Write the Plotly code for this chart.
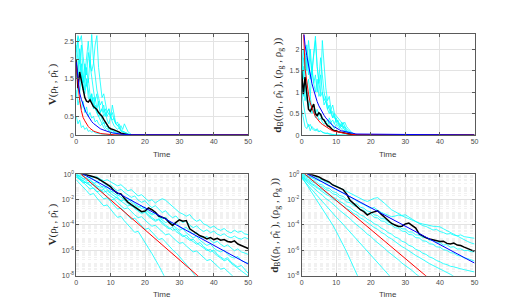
import plotly.graph_objects as go

# ---------------- data: top row (linear), time grid 0..16 step 0.5 ----------------
TOP_T = [0, 0.5, 1, 1.5, 2, 2.5, 3, 3.5, 4, 4.5, 5, 5.5, 6, 6.5, 7, 7.5, 8, 8.5,
         9, 9.5, 10, 10.5, 11, 11.5, 12, 12.5, 13, 13.5, 14, 14.5, 15, 15.5, 16, 50]

tl_cyan = [
    [2.20, 2.60, 1.90, 2.40, 1.60, 1.20, 1.50, 1.00, 0.90, 1.10, 0.70, 0.80, 0.60, 0.50, 0.55, 0.40, 0.30,
     0.35, 0.25, 0.20, 0.15, 0.12, 0.10, 0.08, 0.06, 0.05, 0.03, 0.02, 0.015, 0.01, 0.005, 0.003, 0.0],
    [1.50, 1.80, 2.30, 1.70, 1.40, 1.90, 1.60, 2.20, 1.80, 2.70, 2.00, 1.50, 1.20, 1.00, 0.80, 0.90, 0.60,
     0.70, 0.50, 0.60, 0.45, 0.80, 0.50, 0.30, 0.25, 0.30, 0.15, 0.10, 0.08, 0.05, 0.03, 0.01, 0.0],
    [1.00, 1.30, 1.10, 1.60, 1.20, 1.50, 1.80, 1.40, 2.00, 1.70, 1.90, 2.40, 2.65, 1.80, 1.40, 1.00, 1.10,
     0.80, 0.60, 0.70, 0.50, 0.40, 0.45, 0.30, 0.25, 0.20, 0.12, 0.10, 0.06, 0.04, 0.02, 0.01, 0.0],
    [2.00, 2.65, 2.50, 2.65, 2.10, 1.70, 1.30, 1.50, 1.10, 0.90, 1.00, 0.70, 0.60, 0.50, 0.40, 0.30, 0.35,
     0.20, 0.25, 0.15, 0.10, 0.12, 0.08, 0.05, 0.03, 0.02, 0.01, 0.01, 0.005, 0.0, 0.0, 0.0, 0.0],
    [0.50, 0.30, 0.40, 0.20, 0.25, 0.15, 0.20, 0.10, 0.12, 0.08, 0.10, 0.06, 0.05, 0.04, 0.05, 0.03, 0.02,
     0.02, 0.01, 0.01, 0.005, 0.0, 0.0, 0.0, 0.0, 0.0, 0.0, 0.0, 0.0, 0.0, 0.0, 0.0, 0.0],
    [1.20, 0.80, 1.00, 0.70, 0.90, 0.60, 0.75, 0.50, 0.60, 0.45, 0.50, 0.35, 0.40, 0.30, 0.25, 0.30, 0.20,
     0.15, 0.18, 0.10, 0.08, 0.06, 0.05, 0.03, 0.02, 0.01, 0.0, 0.0, 0.0, 0.0, 0.0, 0.0, 0.0],
    [1.80, 1.50, 2.00, 1.60, 1.30, 1.10, 1.40, 1.20, 0.90, 1.10, 0.80, 1.00, 0.70, 0.90, 0.60, 0.70, 0.80,
     0.50, 0.60, 0.70, 0.50, 0.60, 0.40, 0.30, 0.35, 0.20, 0.25, 0.15, 0.30, 0.20, 0.10, 0.05, 0.02],
    [2.40, 2.00, 1.60, 1.90, 1.40, 1.60, 2.10, 2.50, 1.90, 1.50, 1.20, 0.90, 1.10, 0.80, 0.60, 0.70, 0.50,
     0.60, 0.40, 0.30, 0.50, 0.35, 0.25, 0.20, 0.15, 0.20, 0.10, 0.08, 0.05, 0.03, 0.02, 0.01, 0.0],
]
tl_black = [2.00, 1.25, 1.68, 1.45, 1.20, 1.00, 0.90, 0.88, 0.94, 0.85, 0.76, 0.72, 0.68, 0.60, 0.55, 0.50,
            0.42, 0.35, 0.25, 0.20, 0.17, 0.16, 0.14, 0.12, 0.11, 0.08, 0.05, 0.04, 0.02, 0.015, 0.01, 0.005,
            0.003, 0.0]
tl_red = [1.85, 1.30, 0.92, 0.65, 0.47, 0.38, 0.30, 0.23, 0.18, 0.14, 0.11, 0.09, 0.07, 0.055, 0.045, 0.037,
          0.03, 0.025, 0.02, 0.016, 0.012, 0.01, 0.008, 0.006, 0.005, 0.004, 0.003, 0.002, 0.002, 0.001,
          0.001, 0.001, 0.0, 0.0]
tl_blue = [1.95, 1.45, 1.12, 0.95, 0.80, 0.68, 0.58, 0.50, 0.42, 0.36, 0.31, 0.27, 0.23, 0.20, 0.17, 0.15,
           0.13, 0.11, 0.09, 0.08, 0.07, 0.06, 0.05, 0.042, 0.035, 0.03, 0.025, 0.021, 0.017, 0.014, 0.012,
           0.01, 0.008, 0.0]

tr_cyan = [
    [1.70, 1.30, 1.90, 1.50, 2.20, 1.70, 1.40, 1.90, 2.30, 1.60, 1.20, 1.40, 1.00, 0.80, 0.90, 0.70, 0.60,
     0.50, 0.55, 0.40, 0.35, 0.30, 0.25, 0.20, 0.22, 0.15, 0.10, 0.08, 0.05, 0.03, 0.02, 0.01, 0.0],
    [1.00, 0.70, 0.50, 0.30, 0.20, 0.25, 0.15, 0.12, 0.10, 0.15, 0.08, 0.10, 0.06, 0.05, 0.04, 0.03, 0.02,
     0.02, 0.01, 0.01, 0.005, 0.0, 0.0, 0.0, 0.0, 0.0, 0.0, 0.0, 0.0, 0.0, 0.0, 0.0, 0.0],
    [0.60, 0.40, 0.20, 0.15, 0.25, 0.10, 0.20, 0.15, 0.12, 0.10, 0.08, 0.10, 0.07, 0.05, 0.04, 0.05, 0.03,
     0.02, 0.01, 0.0, 0.0, 0.0, 0.0, 0.0, 0.0, 0.0, 0.0, 0.0, 0.0, 0.0, 0.0, 0.0, 0.0],
    [1.40, 1.80, 1.50, 2.10, 1.70, 1.30, 1.60, 1.20, 1.00, 1.30, 0.90, 1.00, 2.20, 1.50, 1.10, 0.80, 0.90,
     0.60, 0.70, 0.50, 0.45, 0.40, 0.35, 0.30, 0.25, 0.30, 0.20, 0.15, 0.10, 0.06, 0.04, 0.02, 0.0],
    [1.20, 0.90, 1.10, 0.80, 0.70, 0.90, 0.60, 0.70, 0.50, 0.60, 0.45, 0.50, 0.40, 0.35, 0.30, 0.35, 0.25,
     0.30, 0.20, 0.15, 0.25, 0.20, 0.15, 0.30, 0.20, 0.10, 0.08, 0.05, 0.03, 0.02, 0.01, 0.0, 0.0],
    [1.60, 2.00, 1.40, 1.10, 1.30, 0.90, 1.50, 1.80, 2.20, 1.60, 1.20, 0.90, 1.00, 0.70, 0.80, 0.60, 0.50,
     0.60, 0.40, 0.45, 0.30, 0.35, 0.25, 0.20, 0.30, 0.20, 0.15, 0.10, 0.08, 0.05, 0.02, 0.01, 0.0],
    [0.90, 1.20, 0.80, 1.00, 0.60, 0.80, 0.50, 0.60, 0.40, 0.50, 0.35, 0.40, 0.30, 0.25, 0.30, 0.20, 0.40,
     0.30, 0.35, 0.25, 0.40, 0.30, 0.20, 0.25, 0.15, 0.20, 0.10, 0.05, 0.03, 0.02, 0.01, 0.0, 0.0],
    [1.30, 1.60, 1.10, 1.80, 1.40, 2.00, 1.50, 1.20, 1.40, 1.00, 1.30, 1.80, 1.40, 1.00, 0.80, 0.60, 0.70,
     0.50, 0.40, 0.50, 0.30, 0.25, 0.20, 0.15, 0.10, 0.12, 0.08, 0.05, 0.03, 0.02, 0.01, 0.0, 0.0],
]
tr_black = [1.50, 0.95, 1.35, 1.00, 0.60, 0.55, 0.65, 0.72, 0.50, 0.45, 0.52, 0.48, 0.38, 0.35, 0.28, 0.22,
            0.20, 0.15, 0.12, 0.10, 0.10, 0.08, 0.07, 0.06, 0.06, 0.05, 0.04, 0.03, 0.02, 0.015, 0.01, 0.005,
            0.003, 0.0]
tr_red = [3.30, 2.60, 1.55, 1.20, 0.95, 0.75, 0.62, 0.52, 0.43, 0.37, 0.32, 0.28, 0.25, 0.22, 0.19, 0.16,
          0.14, 0.12, 0.10, 0.09, 0.08, 0.07, 0.06, 0.05, 0.04, 0.035, 0.03, 0.025, 0.02, 0.015, 0.012, 0.01,
          0.008, 0.0]
tr_blue = [2.90, 2.45, 2.10, 1.85, 1.60, 1.40, 1.20, 1.05, 0.90, 0.78, 0.68, 0.60, 0.52, 0.46, 0.40, 0.35,
           0.30, 0.26, 0.22, 0.19, 0.16, 0.14, 0.12, 0.10, 0.09, 0.075, 0.065, 0.055, 0.05, 0.04, 0.035,
           0.03, 0.025, 0.0]

# ---------------- data: bottom row (log10 of values), time 0..50 step 1 ----------------
bl_cyan_log = [
    [0.10, 0.02, -0.08, -0.03, -0.18, -0.26, -0.20, -0.38, -0.52, -0.44, -0.61, -0.79, -0.92, -0.83, -1.08,
     -1.31, -1.22, -1.49, -1.71, -1.62, -1.88, -2.12, -2.01, -2.27, -2.08, -1.93, -2.06, -2.31, -2.55, -2.83,
     -3.02, -3.14, -3.31, -3.18, -3.52, -3.71, -3.58, -3.91, -4.03, -4.22, -4.09, -4.31, -4.42, -4.28, -4.51,
     -4.63, -4.41, -4.58, -4.49, -4.71, -4.76],
    [0.00, -0.12, -0.16, -0.31, -0.24, -0.42, -0.57, -0.49, -0.72, -0.91, -0.84, -1.12, -1.31, -1.19, -1.43,
     -1.62, -1.83, -1.71, -2.04, -2.22, -2.09, -2.41, -2.63, -2.48, -2.79, -3.02, -2.88, -3.21, -3.43, -3.29,
     -3.62, -3.81, -3.68, -4.02, -4.21, -4.07, -4.33, -4.52, -4.38, -4.61, -4.49, -4.72, -4.83, -4.69, -4.91,
     -5.02, -4.88, -5.04, -5.12, -4.98, -5.10],
    [-0.05, -0.22, -0.36, -0.28, -0.51, -0.72, -0.63, -0.91, -1.12, -0.98, -1.31, -1.52, -1.71, -1.58, -1.92,
     -2.11, -1.98, -2.32, -2.53, -2.71, -2.58, -2.92, -3.12, -2.97, -3.31, -3.52, -3.38, -3.72, -3.91, -3.79,
     -4.12, -4.31, -4.18, -4.52, -4.71, -4.58, -4.92, -5.03, -4.89, -5.21, -5.42, -5.28, -5.52, -5.71, -5.58,
     -5.82, -6.03, -5.88, -6.12, -6.21, -6.32],
    [0.00, -0.17, -0.31, -0.52, -0.43, -0.71, -0.92, -1.03, -0.94, -1.22, -1.41, -1.29, -1.62, -1.81, -2.02,
     -1.88, -2.21, -2.42, -2.61, -2.49, -2.82, -3.01, -3.22, -3.08, -3.41, -3.62, -3.81, -3.68, -4.02, -4.21,
     -4.42, -4.29, -4.62, -4.81, -5.02, -4.88, -5.21, -5.42, -5.61, -5.49, -5.82, -6.01, -6.12, -5.98, -6.31,
     -6.52, -6.61, -6.48, -6.81, -6.92, -7.02],
    [-0.10, -0.31, -0.52, -0.71, -0.62, -0.91, -1.12, -1.31, -1.19, -1.52, -1.71, -1.92, -1.79, -2.12, -2.31,
     -2.52, -2.38, -2.72, -2.91, -3.12, -2.98, -3.31, -3.52, -3.71, -3.58, -3.92, -4.12, -4.31, -4.18, -4.52,
     -4.71, -4.92, -4.79, -5.12, -5.31, -5.52, -5.38, -5.72, -5.91, -6.12, -5.98, -6.31, -6.52, -6.71, -6.58,
     -6.92, -7.12, -7.31, -7.18, -7.52, -7.81],
    [-0.20, -0.45, -0.68, -0.62, -0.90, -1.15, -1.38, -1.30, -1.58, -1.82, -2.05, -1.97, -2.25, -2.50, -2.72,
     -2.66, -2.95, -3.20, -3.42, -3.35, -3.62, -3.88, -4.10, -4.02, -4.30, -4.55, -4.78, -4.70, -4.98, -5.22,
     -5.45, -5.38, -5.65, -5.90, -6.12, -6.05, -6.32, -6.58, -6.80, -6.72, -7.00, -7.25, -7.48, -7.40, -7.68,
     -7.92, -8.15],
    [-0.10, -0.38, -0.65, -0.90, -1.18, -1.08, -1.40, -1.68, -1.95, -1.86, -2.18, -2.45, -2.75, -2.66, -2.98,
     -3.25, -3.55, -3.46, -3.78, -4.05, -4.35, -4.26, -4.58, -4.85, -5.15, -5.06, -5.38, -5.65, -5.95, -6.18,
     -6.48, -6.75, -7.10, -7.42, -7.80, -8.15],
    [-0.45, -0.72, -1.02, -1.30, -1.62, -1.52, -1.88, -2.18, -2.50, -2.42, -2.80, -3.10, -3.40, -3.32, -3.68,
     -4.00, -4.30, -4.58, -4.50, -4.98, -5.40, -5.82, -6.25, -6.70, -7.20, -7.72, -8.25],
    [-0.25, -0.38, -0.52, -0.71, -0.88, -0.80, -1.02, -1.21, -1.42, -1.31, -1.52, -1.73, -1.92, -2.11, -2.01,
     -2.32, -2.51, -2.62, -2.83, -3.02, -2.91, -3.22, -3.41, -3.62, -3.52, -3.81, -4.02, -4.21, -4.42, -4.31,
     -4.62, -4.81, -5.02, -5.21, -5.12, -5.42, -5.61, -5.82, -6.01, -5.92, -6.21, -6.42, -6.61, -6.82, -6.71,
     -7.02, -7.21, -7.42, -7.61, -7.82, -8.02],
]
bl_black_log = [0.35, 0.15, 0.00, -0.05, -0.10, -0.20, -0.30, -0.45, -0.60, -0.80, -1.00, -1.30, -1.50, -1.55,
                -1.90, -2.20, -2.40, -2.60, -2.75, -2.95, -2.90, -2.65, -2.80, -3.00, -3.30, -3.40, -3.50,
                -3.80, -4.05, -3.80, -3.60, -3.70, -3.65, -4.30, -4.50, -4.70, -4.85, -4.95, -5.10, -5.00,
                -5.15, -5.05, -5.20, -5.15, -5.30, -5.35, -5.25, -5.50, -5.60, -5.70, -5.85]
bl_red_t, bl_red_log = [0, 40], [0.33, -9.10]
bl_blue_t, bl_blue_log = [0, 50], [0.30, -7.08]

br_cyan_log = [
    [0.05, -0.05, -0.12, -0.25, -0.20, -0.38, -0.45, -0.62, -0.70, -0.85, -0.92, -1.10, -1.22, -1.35, -1.50,
     -1.62, -1.78, -1.90, -2.05, -2.15, -2.02, -1.90, -1.85, -2.05, -2.30, -2.55, -2.80, -2.95, -3.10, -3.25,
     -3.20, -3.35, -3.55, -3.72, -3.90, -4.05, -4.12, -4.28, -4.40, -4.35, -4.52, -4.60, -4.72, -4.68, -4.80,
     -4.85, -4.78, -4.92, -4.98, -5.02, -5.05],
    [0.00, -0.10, -0.22, -0.30, -0.45, -0.55, -0.62, -0.80, -0.95, -1.08, -1.20, -1.35, -1.48, -1.62, -1.80,
     -1.95, -2.10, -2.28, -2.40, -2.55, -2.70, -2.62, -2.85, -3.00, -3.10, -3.25, -3.35, -3.30, -3.22, -3.28,
     -3.40, -3.55, -3.62, -3.75, -3.85, -3.92, -4.00, -4.05, -4.10, -4.12, -4.15, -4.30, -4.45, -4.60, -4.72,
     -4.90, -5.05, -5.20, -5.30, -5.42, -5.50],
    [-0.05, -0.20, -0.28, -0.48, -0.55, -0.78, -0.85, -1.08, -1.12, -1.38, -1.45, -1.68, -1.75, -2.00, -2.05,
     -2.30, -2.36, -2.60, -2.68, -2.90, -2.96, -3.20, -3.26, -3.50, -3.52, -3.78, -3.80, -4.05, -4.08, -4.30,
     -4.32, -4.55, -4.56, -4.78, -4.80, -5.00, -4.98, -5.20, -5.18, -5.40, -5.38, -5.58, -5.55, -5.75, -5.72,
     -5.90, -5.88, -6.02, -6.00, -6.10, -6.12],
    [-0.10, -0.30, -0.42, -0.60, -0.70, -0.92, -1.00, -1.22, -1.30, -1.55, -1.62, -1.85, -1.92, -2.18, -2.25,
     -2.48, -2.55, -2.80, -2.85, -3.10, -3.15, -3.40, -3.45, -3.68, -3.72, -3.95, -4.00, -4.22, -4.25, -4.48,
     -4.52, -4.75, -4.78, -5.00, -5.02, -5.25, -5.28, -5.48, -5.52, -5.72, -5.75, -5.95, -6.00, -6.18, -6.22,
     -6.40, -6.45, -6.60, -6.65, -6.78, -6.85],
    [-0.15, -0.38, -0.52, -0.75, -0.88, -1.10, -1.22, -1.45, -1.58, -1.80, -1.92, -2.15, -2.28, -2.50, -2.62,
     -2.85, -2.98, -3.20, -3.32, -3.55, -3.68, -3.90, -4.02, -4.25, -4.38, -4.60, -4.72, -4.95, -5.05, -5.28,
     -5.38, -5.60, -5.70, -5.92, -6.02, -6.22, -6.32, -6.52, -6.62, -6.80, -6.90, -7.05, -7.12, -7.25, -7.30,
     -7.40, -7.45, -7.52, -7.58, -7.62, -7.70],
    [-0.20, -0.42, -0.60, -0.82, -0.98, -1.20, -1.35, -1.58, -1.72, -1.95, -2.10, -2.32, -2.48, -2.70, -2.85,
     -3.08, -3.22, -3.45, -3.60, -3.82, -3.98, -4.20, -4.35, -4.58, -4.72, -4.95, -5.10, -5.32, -5.48, -5.70,
     -5.85, -6.05, -6.20, -6.40, -6.55, -6.75, -6.88, -7.05, -7.18, -7.35, -7.48, -7.62, -7.75, -7.88, -8.05],
    [-0.25, -0.50, -0.72, -0.98, -1.18, -1.45, -1.65, -1.92, -2.10, -2.38, -2.58, -2.85, -3.05, -3.32, -3.50,
     -3.78, -3.98, -4.25, -4.45, -4.72, -4.90, -5.18, -5.38, -5.65, -5.85, -6.10, -6.30, -6.55, -6.75, -7.00,
     -7.18, -7.42, -7.60, -7.85, -8.05],
    [-0.30, -0.62, -0.95, -1.25, -1.58, -1.85, -2.15, -2.45, -2.78, -3.05, -3.38, -3.65, -3.95, -4.22, -4.55,
     -4.80, -5.12, -5.40, -5.72, -6.00, -6.32, -6.62, -6.95, -7.25, -7.58, -7.88, -8.20],
    [-0.20, -0.62, -1.05, -1.45, -1.90, -2.30, -2.75, -3.15, -3.60, -4.00, -4.50, -5.00, -5.55, -6.10, -6.70,
     -7.30, -7.90, -8.50],
]
br_black_log = [0.30, 0.12, 0.00, -0.05, -0.12, -0.22, -0.38, -0.50, -0.62, -0.85, -0.98, -1.05, -1.22, -1.55,
                -2.05, -2.30, -2.55, -2.80, -2.95, -3.22, -3.05, -2.95, -2.88, -3.15, -3.40, -3.65, -3.88,
                -4.00, -4.12, -4.10, -3.92, -3.85, -4.05, -4.25, -4.70, -4.88, -5.02, -5.10, -5.15, -5.22,
                -5.30, -5.28, -5.45, -5.50, -5.42, -5.58, -5.62, -5.75, -5.85, -5.95, -6.08]
br_red_t, br_red_log = [0, 40], [0.23, -8.94]
br_blue_t, br_blue_log = [0, 50], [0.26, -7.00]

X_TICKS = [0, 10, 20, 30, 40, 50]
LOG_TICK_EXP = [-8, -6, -4, -2, 0]

# ---------------- figure ----------------
CYAN, BLACK, RED, BLUE = "#00FFFF", "#000000", "#FF0000", "#0000FF"
fig = go.Figure()


def add_line(x, y, color, width, ax):
    fig.add_trace(go.Scatter(x=x, y=y, mode="lines", line=dict(color=color, width=width),
                             xaxis="x" + ax, yaxis="y" + ax, showlegend=False, hoverinfo="skip"))


def top_panel(cyan, black, red, blue, ax):
    for c in cyan:
        add_line(TOP_T[:len(c)], c, CYAN, 0.8, ax)
    add_line(TOP_T[:len(black)], black, BLACK, 1.5, ax)
    add_line(TOP_T[:len(red)], red, RED, 1.0, ax)
    add_line(TOP_T[:len(blue)], blue, BLUE, 1.0, ax)


def bottom_panel(cyan, black, red_t, red, blue_t, blue, ax):
    for c in cyan:
        add_line(list(range(len(c))), [10 ** v for v in c], CYAN, 0.8, ax)
    add_line(list(range(len(black))), [10 ** v for v in black], BLACK, 1.5, ax)
    add_line(red_t, [10 ** v for v in red], RED, 1.0, ax)
    add_line(blue_t, [10 ** v for v in blue], BLUE, 1.0, ax)


top_panel(tl_cyan, tl_black, tl_red, tl_blue, "")
top_panel(tr_cyan, tr_black, tr_red, tr_blue, "2")
bottom_panel(bl_cyan_log, bl_black_log, bl_red_t, bl_red_log, bl_blue_t, bl_blue_log, "3")
bottom_panel(br_cyan_log, br_black_log, br_red_t, br_red_log, br_blue_t, br_blue_log, "4")

W, H = 518, 303
COLS = [(67, 241), (295, 470)]
ROWS = [(23, 126), (166, 270)]

TICKFONT = dict(family="Liberation Sans, Arial, sans-serif", size=7, color="#4a4a4a")
GRID = "#e3e3e3"
LINE = "#5a5a5a"

common_x = dict(range=[0, 50], tickvals=X_TICKS, showline=True, linecolor=LINE, linewidth=0.8,
                mirror="ticks", ticks="inside", ticklen=3, tickcolor=LINE, showgrid=True,
                gridcolor=GRID, gridwidth=0.6, zeroline=False, tickfont=TICKFONT)
common_y = dict(showline=True, linecolor=LINE, linewidth=0.8, mirror="ticks", ticks="inside",
                ticklen=3, tickcolor=LINE, showgrid=True, gridcolor=GRID, gridwidth=0.6,
                zeroline=False, tickfont=TICKFONT)

minor_vals = [k * 10 ** e for e in range(-8, 0) for k in range(2, 10)]
log_y = dict(type="log", range=[-8, 0], tickvals=[10 ** e for e in LOG_TICK_EXP],
             ticktext=["10<sup>%s</sup>" % e for e in LOG_TICK_EXP],
             minor=dict(tickvals=minor_vals, showgrid=True, gridcolor="#f1f1f1", griddash="dot",
                        gridwidth=0.6, ticklen=0))


def xd(c):
    return [COLS[c][0] / W, COLS[c][1] / W]


def yd(r):
    return [1 - ROWS[r][1] / H, 1 - ROWS[r][0] / H]


layout = dict(
    width=W, height=H, margin=dict(l=0, r=0, t=0, b=0),
    paper_bgcolor="white", plot_bgcolor="white",
    xaxis=dict(common_x, domain=xd(0), anchor="y"),
    yaxis=dict(common_y, domain=yd(0), anchor="x", range=[0, 2.68], dtick=0.5),
    xaxis2=dict(common_x, domain=xd(1), anchor="y2"),
    yaxis2=dict(common_y, domain=yd(0), anchor="x2", range=[0, 2.34], dtick=0.5),
    xaxis3=dict(common_x, domain=xd(0), anchor="y3"),
    yaxis3=dict(common_y, domain=yd(1), anchor="x3", **log_y),
    xaxis4=dict(common_x, domain=xd(1), anchor="y4"),
    yaxis4=dict(common_y, domain=yd(1), anchor="x4", **log_y),
)
fig.update_layout(**layout)

LABFONT = dict(family="Liberation Serif, DejaVu Serif, serif", size=11, color="#262626")
TIMEFONT = dict(family="Liberation Sans, Arial, sans-serif", size=8, color="#404040")
ylab1 = "<b>V</b>(ρ<sub>t</sub> , ρ̂<sub>t</sub> )"
ylab2 = "<b>d</b><sub>B</sub>((ρ<sub>t</sub> , ρ̂<sub>t</sub> ), (ρ<sub>g</sub> , ρ<sub>g</sub> ))"
ann = []
for (lab, xpx, r) in [(ylab1, 43, 0), (ylab2, 271, 0), (ylab1, 43, 1), (ylab2, 268, 1)]:
    ann.append(dict(text=lab, x=xpx / W, y=1 - (ROWS[r][0] + ROWS[r][1]) / 2 / H, xref="paper",
                    yref="paper", showarrow=False, textangle=-90, font=LABFONT,
                    xanchor="center", yanchor="middle"))
for c in range(2):
    for (ypx) in [146, 289]:
        ann.append(dict(text="Time", x=(COLS[c][0] + COLS[c][1]) / 2 / W, y=1 - ypx / H,
                        xref="paper", yref="paper", showarrow=False, font=TIMEFONT,
                        xanchor="center", yanchor="middle"))
fig.update_layout(annotations=ann)

fig.write_html("out.html")
